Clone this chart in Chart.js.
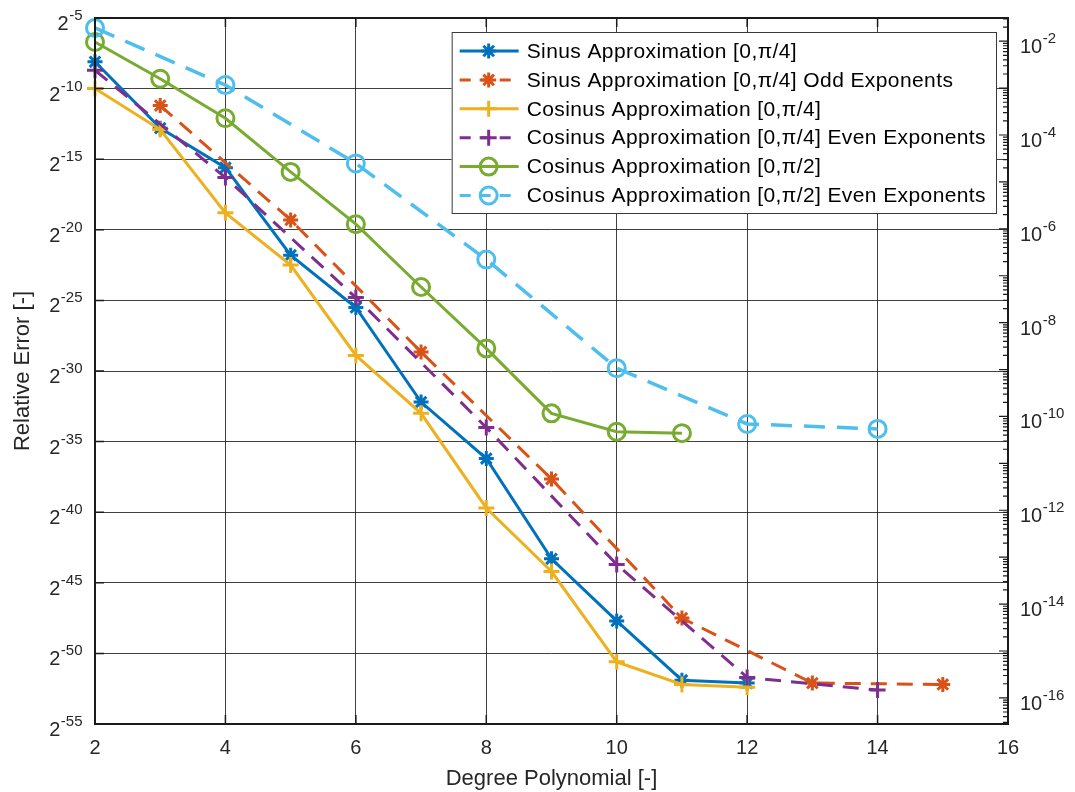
<!DOCTYPE html>
<html lang="en">
<head>
    <meta charset="UTF-8">
    <title>Relative Error</title>
    <style>
        html, body { margin: 0; padding: 0; background: #fff; }
        canvas { display: block; }
    </style>
</head>
<body>
    <canvas id="errChart" width="1075" height="792"></canvas>

    <script src="https://cdn.jsdelivr.net/npm/chart.js"></script>
    <script>
        // values are log2 of the relative error
        var degreeTicks = [2, 4, 6, 8, 10, 12, 14, 16];
        var log2Ticks = [-55, -50, -45, -40, -35, -30, -25, -20, -15, -10, -5];
        var log10Ticks = [-16, -14, -12, -10, -8, -6, -4, -2];

        var sinusDeg = [2, 3, 4, 5, 6, 7, 8, 9, 10, 11, 12];
        var sinusErr = [-8.1, -12.8, -15.6, -21.8, -25.5, -32.2, -36.2, -43.3, -47.7, -51.9, -52.1];

        var sinusOddDeg = [3, 5, 7, 9, 11, 13, 15];
        var sinusOddErr = [-11.2, -19.3, -28.65, -37.65, -47.5, -52.1, -52.2];

        var cosinusDeg = [2, 3, 4, 5, 6, 7, 8, 9, 10, 11, 12];
        var cosinusErr = [-10.0, -12.9, -18.8, -22.5, -28.9, -33.0, -39.7, -44.2, -50.6, -52.2, -52.4];

        var cosinusEvenDeg = [2, 4, 6, 8, 10, 12, 14];
        var cosinusEvenErr = [-8.7, -16.3, -24.8, -34.0, -43.7, -51.7, -52.6];

        var cosHalfDeg = [2, 3, 4, 5, 6, 7, 8, 9, 10, 11];
        var cosHalfErr = [-6.7, -9.3, -12.1, -15.9, -19.6, -24.05, -28.4, -33.0, -34.3, -34.4];

        var cosHalfEvenDeg = [2, 4, 6, 8, 10, 12, 14];
        var cosHalfEvenErr = [-5.7, -9.75, -15.3, -22.1, -29.8, -33.75, -34.1];

        var labels = [
            'Sinus Approximation [0,\u03C0/4]',
            'Sinus Approximation [0,\u03C0/4] Odd Exponents',
            'Cosinus Approximation [0,\u03C0/4]',
            'Cosinus Approximation [0,\u03C0/4] Even Exponents',
            'Cosinus Approximation [0,\u03C0/2]',
            'Cosinus Approximation [0,\u03C0/2] Even Exponents'
        ];

        var FONT = '"Liberation Sans", Arial, Helvetica, sans-serif';
        var TXT = '#262626';
        var LOG10_2 = Math.log10(2);

        function pts(xs, ys) {
            return xs.map(function (x, i) { return { x: x, y: ys[i] }; });
        }

        function series(i, xs, ys, color, marker, radius, dash, width) {
            return {
                label: labels[i],
                data: pts(xs, ys),
                borderColor: color,
                backgroundColor: color,
                borderWidth: width,
                borderDash: dash,
                pointStyle: marker,
                pointRadius: radius,
                pointBorderWidth: 3,
                pointBorderColor: color,
                pointBackgroundColor: marker === 'circle' ? 'rgba(0,0,0,0)' : color,
                tension: 0,
                clip: false,
                order: 10 - i
            };
        }

        // inward ticks, box, power-style tick labels and the legend
        var decor = {
            id: 'decor',
            afterDraw: function (chart) {
                var c = chart.ctx, a = chart.chartArea;
                var xs = chart.scales.x, ys = chart.scales.y, yr = chart.scales.y2;
                c.save();

                c.strokeStyle = '#1a1a1a';
                c.lineWidth = 1.5;
                c.beginPath();
                xs.ticks.forEach(function (t) {
                    var px = xs.getPixelForValue(t.value);
                    c.moveTo(px, a.bottom); c.lineTo(px, a.bottom - 9);
                    c.moveTo(px, a.top); c.lineTo(px, a.top + 9);
                });
                ys.ticks.forEach(function (t) {
                    var py = ys.getPixelForValue(t.value);
                    c.moveTo(a.left, py); c.lineTo(a.left + 9, py);
                });
                c.stroke();

                c.lineWidth = 1.2;
                c.beginPath();
                for (var k = -17; k <= -1; k++) {
                    for (var m = 1; m <= 9; m++) {
                        var v = k + Math.log10(m);
                        if (v < yr.min || v > yr.max) continue;
                        var py = yr.getPixelForValue(v);
                        var len = m === 1 ? 9 : 5;
                        c.moveTo(a.right, py); c.lineTo(a.right - len, py);
                    }
                }
                c.stroke();

                c.lineWidth = 2;
                c.strokeRect(a.left, a.top, a.right - a.left, a.bottom - a.top);

                // tick labels with exponents
                c.fillStyle = TXT;
                c.textAlign = 'left';
                c.textBaseline = 'alphabetic';
                function power(base, exp, x, y, alignRight) {
                    c.font = '20px ' + FONT;
                    var bw = c.measureText(base).width;
                    c.font = '15px ' + FONT;
                    var ew = c.measureText(exp).width;
                    var x0 = alignRight ? x - bw - ew : x;
                    c.font = '20px ' + FONT;
                    c.fillText(base, x0, y + 12);
                    c.font = '15px ' + FONT;
                    c.fillText(exp, x0 + bw + 0.5, y + 2);
                }
                ys.ticks.forEach(function (t) {
                    power('2', String(t.value), 82, ys.getPixelForValue(t.value), true);
                });
                yr.ticks.forEach(function (t) {
                    power('10', String(t.value), 1020, yr.getPixelForValue(t.value), false);
                });

                // legend
                var ds = chart.data.datasets;
                c.font = '21px ' + FONT;
                if ('letterSpacing' in c) c.letterSpacing = '0.4px';
                var maxW = 0;
                ds.forEach(function (d) { maxW = Math.max(maxW, c.measureText(d.label).width); });
                var bw = 75 + maxW + 10, bh = 181;
                var bx = a.right - 12 - bw, by = a.top + 14;
                c.fillStyle = '#fff';
                c.fillRect(bx, by, bw, bh);
                c.strokeStyle = '#3a3a3a';
                c.lineWidth = 1;
                c.strokeRect(bx + 0.5, by + 0.5, bw, bh);
                ds.forEach(function (d, i) {
                    var ry = by + 19 + i * 28.9;
                    c.strokeStyle = d.borderColor;
                    c.lineWidth = 3;
                    c.setLineDash(d.borderDash.length ? [11, 9] : []);
                    c.beginPath();
                    c.moveTo(bx + 8, ry); c.lineTo(bx + 67, ry);
                    c.stroke();
                    c.setLineDash([]);
                    c.fillStyle = d.pointBackgroundColor;
                    c.strokeStyle = d.pointBorderColor;
                    Chart.helpers.drawPoint(c, {
                        pointStyle: d.pointStyle, radius: d.pointRadius,
                        rotation: 0, borderWidth: 3
                    }, bx + 37, ry);
                    c.fillStyle = '#000';
                    c.font = '21px ' + FONT;
                    c.textBaseline = 'middle';
                    c.fillText(d.label, bx + 75, ry + 1);
                });
                if ('letterSpacing' in c) c.letterSpacing = '0px';
                c.restore();
            }
        };

        var ctx = document.getElementById('errChart').getContext('2d');
        var errChart = new Chart(ctx, {
            type: 'line',
            data: {
                datasets: [
                    series(0, sinusDeg, sinusErr, '#0072BD', 'star', 7.5, [], 3),
                    series(1, sinusOddDeg, sinusOddErr, '#D95319', 'star', 7.5, [16, 10], 3),
                    series(2, cosinusDeg, cosinusErr, '#EDB120', 'cross', 8, [], 3),
                    series(3, cosinusEvenDeg, cosinusEvenErr, '#7E2F8E', 'cross', 8, [16, 10], 3),
                    series(4, cosHalfDeg, cosHalfErr, '#77AC30', 'circle', 8.5, [], 3),
                    series(5, cosHalfEvenDeg, cosHalfEvenErr, '#4DBEEE', 'circle', 8.5, [21, 12], 3.5)
                ]
            },
            options: {
                responsive: false,
                animation: false,
                layout: { padding: { top: 18, left: 0, right: 0, bottom: 0 } },
                plugins: {
                    legend: { display: false },
                    tooltip: { enabled: false }
                },
                scales: {
                    x: {
                        type: 'linear',
                        min: 2,
                        max: 16,
                        afterBuildTicks: function (s) {
                            s.ticks = degreeTicks.map(function (v) { return { value: v }; });
                        },
                        grid: { color: 'rgba(30,30,30,0.85)', lineWidth: 1, drawTicks: false },
                        border: { display: false },
                        ticks: { font: { size: 20, family: FONT }, color: TXT, padding: 12, maxRotation: 0 },
                        title: {
                            display: true, text: 'Degree Polynomial [-]', color: TXT,
                            font: { size: 22, family: FONT }, padding: { top: 4, bottom: 0 }
                        },
                        afterFit: function (s) { s.height = 68; }
                    },
                    y: {
                        type: 'linear',
                        position: 'left',
                        min: -55,
                        max: -5,
                        afterBuildTicks: function (s) {
                            s.ticks = log2Ticks.map(function (v) { return { value: v }; });
                        },
                        grid: { color: 'rgba(30,30,30,0.85)', lineWidth: 1, drawTicks: false },
                        border: { display: false },
                        ticks: { display: false },
                        title: {
                            display: true, text: 'Relative Error [-]', color: TXT,
                            font: { size: 22, family: FONT }, padding: { top: 10, bottom: 0 }
                        },
                        afterFit: function (s) { s.width = 95; }
                    },
                    y2: {
                        type: 'linear',
                        position: 'right',
                        min: -55 * LOG10_2,
                        max: -5 * LOG10_2,
                        afterBuildTicks: function (s) {
                            s.ticks = log10Ticks.map(function (v) { return { value: v }; });
                        },
                        grid: { display: false },
                        border: { display: false },
                        ticks: { display: false },
                        afterFit: function (s) { s.width = 67; }
                    }
                }
            },
            plugins: [decor]
        });
    </script>
</body>
</html>
